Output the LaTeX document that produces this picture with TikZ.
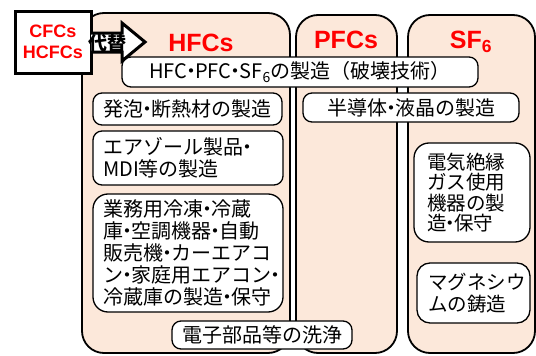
\documentclass[tikz,border=0pt]{standalone}
\usepackage{fontspec}
\setmainfont{Noto Sans CJK JP}
\newfontfamily\lat{Liberation Sans}
\definecolor{peach}{RGB}{252,232,218}
\definecolor{lblred}{RGB}{255,0,0}
\newcommand\nd{\kern-.3em・\kern-.3em}
\begin{document}
\begin{tikzpicture}[x=1pt,y=-1pt,
  col/.style={draw, line width=1.8pt, fill=peach, rounded corners=22pt, inner sep=0pt},
  ibox/.style={draw, line width=1.3pt, fill=white, rounded corners=9pt, inner sep=0pt,
     font=\fontsize{20}{22}\selectfont},
  lbl/.style={text=lblred, font=\lat\bfseries\fontsize{25}{25}\selectfont, inner sep=0pt},
]
\useasboundingbox (0,0) rectangle (536,356);
% columns
\node[col, minimum width=208pt, minimum height=340pt] (hfccol) at (186,183) {};
\node[col, minimum width=101pt, minimum height=338pt] (pfccol) at (346.5,184) {};
\node[col, minimum width=127pt, minimum height=338pt] (sfcol) at (471.5,184) {};
% boxes
\node[ibox, minimum width=356pt, minimum height=30pt] (wide) at (300,72)
  {HFC\nd PFC\nd SF\textsubscript{6}の製造（破壊技術）};
\node[ibox, minimum width=189pt, minimum height=32pt] (foam) at (187.5,109)
  {発泡\nd 断熱材の製造};
\node[ibox, minimum width=190pt, minimum height=54pt, text width=170pt, align=left] (aero) at (188,158)
  {エアゾール製品\nd\\MDI等の製造};
\node[ibox, rounded corners=15pt, minimum width=190pt, minimum height=118pt, text width=170pt, align=left] (refr) at (188,253)
  {業務用冷凍\nd 冷蔵\\庫\nd 空調機器\nd 自動\\販売機\nd カーエアコ\\ン\nd 家庭用エアコン\nd\\冷蔵庫の製造\nd 保守};
\node[ibox, minimum width=180pt, minimum height=28pt] (elec) at (262,335)
  {電子部品等の洗浄};
\node[ibox, minimum width=216pt, minimum height=29pt] (semi) at (411,107.5)
  {半導体\nd 液晶の製造};
\node[ibox, rounded corners=15pt, minimum width=116pt, minimum height=99pt, text width=90pt, align=left,
  font=\fontsize{19.5}{20.5}\selectfont] (gis) at (472,192.5)
  {電気絶縁\\ガス使用\\機器の製\\造\nd 保守};
\node[ibox, rounded corners=13pt, minimum width=113pt, minimum height=60pt, text width=91pt, align=left,
  font=\fontsize{19.5}{22}\selectfont] (mg) at (473.5,293)
  {マグネシウ\\ムの鋳造};
% CFCs box
\node[draw, line width=3pt, fill=white, minimum width=76pt, minimum height=62pt, inner sep=0pt,
  align=center, text=lblred, font=\lat\bfseries\fontsize{18}{21}\selectfont] (cfc) at (53,42)
  {CFCs\\HCFCs};
% arrow
\fill[white] (91,33) -- (122,33) -- (122,23) -- (145,42) -- (122,61) -- (122,52) -- (91,52) -- cycle;
\draw[line width=3pt, line join=miter] (91,33) -- (122,33) -- (122,23) -- (145,42) -- (122,61) -- (122,52) -- (91,52);
\node[inner sep=0pt, font=\bfseries\fontsize{19}{19}\selectfont] (subst) at (107,43) {代替};
% labels
\node[lbl] (hfclbl) at (201,43) {HFCs};
\node[lbl] (pfclbl) at (346,40) {PFCs};
\node[lbl] (sflbl) at (471,42) {SF\textsubscript{6}};
\end{tikzpicture}
\end{document}
